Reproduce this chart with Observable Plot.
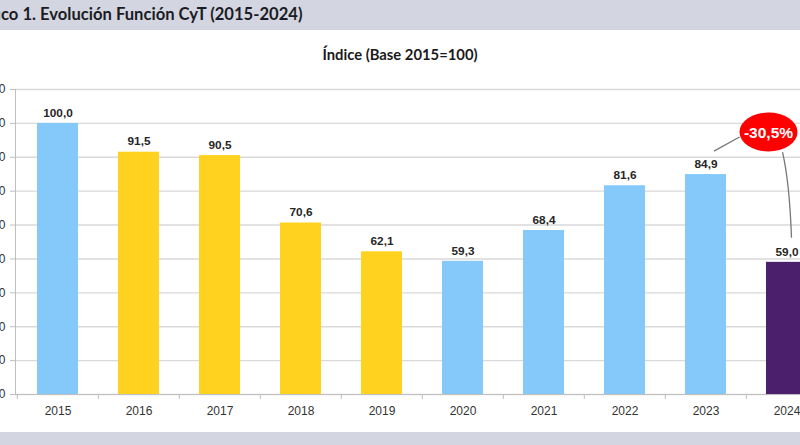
<!DOCTYPE html>
<html>
<head>
<meta charset="utf-8">
<script src="https://cdn.jsdelivr.net/npm/d3@7"></script>
<script src="https://cdn.jsdelivr.net/npm/@observablehq/plot@0.6"></script>
<style>
  html, body { margin: 0; padding: 0; background: #fff; }
  body { width: 800px; height: 445px; overflow: hidden; position: relative; }
  #titlebar { position: absolute; left: 0; top: 0; width: 800px; height: 30px; background: #D3D6E0; overflow: hidden; }
  #title { position: absolute; top: 4px; white-space: nowrap; font-family: Lato, "Open Sans", sans-serif; font-weight: 700; font-size: 16.6px; color: #1b1b24; }
  #subtitle { position: absolute; top: 45px; left: 0; width: 800px; text-align: center; font-family: Lato, "Open Sans", sans-serif; font-weight: 700; font-size: 14.8px; color: #1a1a1a; }
  #chart { position: absolute; left: -25px; top: 70px; }
  #chart svg { max-width: none; }
  #bottombar { position: absolute; left: 0; top: 432px; width: 800px; height: 13px; background: #D3D6E0; }
</style>
</head>
<body>
<div id="titlebar"><div id="title"><span id="pre">Gráfi</span>co 1. Evolución Función CyT (2015-2024)</div></div>
<div id="subtitle">Índice (Base 2015=100)</div>
<div id="chart"></div>
<div id="bottombar"></div>
<script>
// ---- data ----
const years = ["2015","2016","2017","2018","2019","2020","2021","2022","2023","2024"];
const values = [100.0, 91.5, 90.5, 70.6, 62.1, 59.3, 68.4, 81.6, 84.9, 59.0];
const gestion = ["CFK","Macri","Macri","Macri","Macri","Fernández","Fernández","Fernández","Fernández","Milei"];
const gestiones = ["CFK","Macri","Fernández","Milei"];
const gestionColors = ["#85C9FB","#FFD21F","#85C9FB","#4B1F6B"];
const yTicks = [20,30,40,50,60,70,80,90,100,110];

const data = years.map((y, i) => ({year: y, value: values[i], gestion: gestion[i]}));
const fmt = v => v.toFixed(1).replace(".", ",");
const font = '"Liberation Sans", Arial, sans-serif';

// shift title so that only "co 1. ..." is visible from the left edge
const pre = document.getElementById("pre");
document.getElementById("title").style.left = (1 - pre.getBoundingClientRect().width) + "px";

const plot = Plot.plot({
  width: 859,
  height: 362,
  marginLeft: 40,
  marginRight: 5,
  marginTop: 19,
  marginBottom: 38,
  style: {fontFamily: font, background: "transparent"},
  x: {domain: years, paddingInner: 0.5, paddingOuter: 0.25},
  y: {domain: [20, 110]},
  color: {domain: gestiones, range: gestionColors},
  marks: [
    Plot.gridY(yTicks, {stroke: "#D9D9D9", strokeOpacity: 1, strokeWidth: 1.4}),
    Plot.axisY(yTicks, {tickSize: 5, tickPadding: 5, fontSize: 12, fill: "#333", stroke: "#BFBFBF", label: null}),
    Plot.frame({anchor: "left", stroke: "#BFBFBF"}),
    Plot.barY(data, {x: "year", y1: 20, y2: "value", fill: "gestion"}),
    Plot.ruleY([20], {stroke: "#BFBFBF", strokeWidth: 1.2}),
    Plot.ruleX(years, {x: d => d, dx: -40.7, y1: 20, y2: 20, insetTop: 0, insetBottom: -5, stroke: "#BFBFBF"}),
    Plot.axisX({tickSize: 0, tickPadding: 12, fontSize: 12, fill: "#333", label: null}),
    Plot.text(data, {x: "year", y: "value", text: d => fmt(d.value), dy: -10.5, fontSize: 11.8, fontWeight: "bold", fill: "#262626"})
  ]
});
document.getElementById("chart").appendChild(plot);

// ---- annotation: change 2023 -> 2024 ----
const sx = plot.scale("x"), sy = plot.scale("y");
const bw = sx.bandwidth;
const cx23 = sx.apply("2023") + bw / 2;
const cx24 = sx.apply("2024") + bw / 2;
const v23 = values[years.indexOf("2023")], v24 = values[years.indexOf("2024")];
const change = (v24 / v23 - 1) * 100;
const ex = cx24 - 18, ey = sy.apply(97.3);
const g = d3.select(plot).append("g");
g.append("path")
  .attr("d", `M${cx23 + 8.5},${sy.apply(v23) - 23} L${ex - 29},${ey + 5}`)
  .attr("fill", "none").attr("stroke", "#777").attr("stroke-width", 1.3);
g.append("path")
  .attr("d", `M${ex + 14},${ey + 20} Q${ex + 21},${ey + 50} ${cx24 + 5},${sy.apply(v24) - 24}`)
  .attr("fill", "none").attr("stroke", "#777").attr("stroke-width", 1.3);
g.append("ellipse")
  .attr("cx", ex).attr("cy", ey).attr("rx", 29).attr("ry", 19.5).attr("fill", "#FF0000");
g.append("text")
  .attr("x", ex).attr("y", ey).attr("dy", "0.36em")
  .attr("text-anchor", "middle")
  .attr("fill", "#fff").attr("font-weight", "bold").attr("font-size", 15.5)
  .attr("font-family", font)
  .text(fmt(change) + "%");
</script>
</body>
</html>
